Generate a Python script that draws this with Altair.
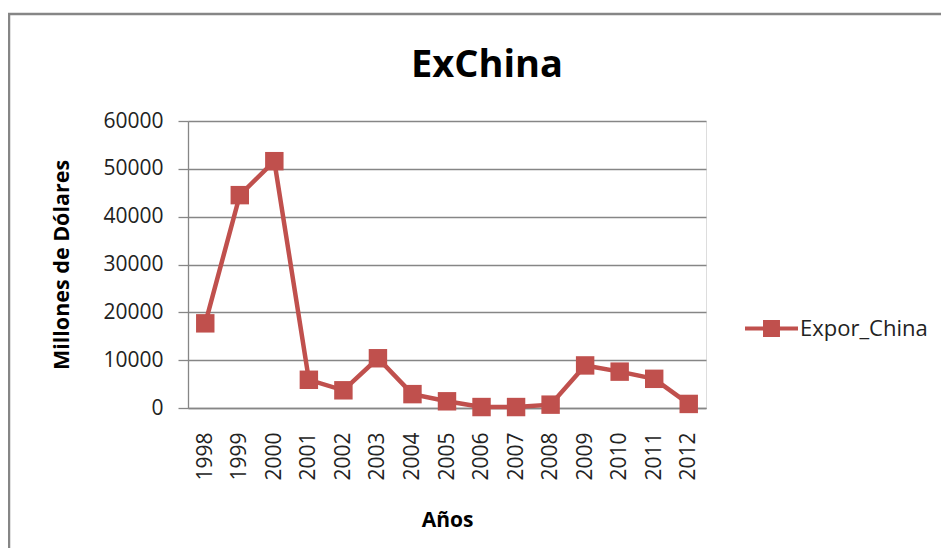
import altair as alt
import pandas as pd

years = ["1998", "1999", "2000", "2001", "2002", "2003", "2004", "2005",
         "2006", "2007", "2008", "2009", "2010", "2011", "2012"]
values = [17700, 44500, 51600, 5900, 3700, 10400, 2900, 1400,
          200, 200, 700, 8900, 7600, 6100, 850]
series_name = "Expor_China"
title_text = "ExChina"
y_title = "Millones de Dólares"
x_title = "Años"

df = pd.DataFrame({"year": years, "value": values, "serie": [series_name] * len(years)})

FONT = "Open Sans"
RED = "#C0504D"
GRAY = "#868686"

W, H = 518, 287

color = alt.Color(
    "serie:N",
    scale=alt.Scale(range=[RED]),
    legend=alt.Legend(
        title=None, orient="none", legendX=557, legendY=181,
        symbolType="M-1,-0.08L1,-0.08L1,0.08L-1,0.08Z M-0.32,-0.32L0.32,-0.32L0.32,0.32L-0.32,0.32Z",
        symbolSize=2809, symbolFillColor=RED, symbolStrokeWidth=0,
        labelFont=FONT, labelFontSize=22, labelColor="#222222",
        labelOffset=2, padding=0, offset=0,
    ),
)

x = alt.X(
    "year:O", sort=years, scale=alt.Scale(padding=0.5),
    axis=alt.Axis(
        title=x_title, titleFont=FONT, titleFontSize=21, titleFontWeight="bold",
        titleColor="#000000", titleX=259, titleY=112, titleBaseline="middle",
        labelAngle=-90, labelFont=FONT, labelFontSize=21, labelColor="#222222",
        labelPadding=24, ticks=False, domainColor=GRAY, domainWidth=1.3, grid=False,
    ),
)
y = alt.Y(
    "value:Q", scale=alt.Scale(domain=[0, 60000], nice=False),
    axis=alt.Axis(
        title=y_title, titleFont=FONT, titleFontSize=21.5, titleFontWeight="bold",
        titleColor="#000000", titleX=-126, titleY=143.5, titleBaseline="middle",
        titleAlign="center",
        values=[0, 10000, 20000, 30000, 40000, 50000, 60000], format="d",
        labelFont=FONT, labelFontSize=21, labelColor="#222222", labelPadding=15,
        tickSize=10, tickColor=GRAY, tickWidth=1.3, domainColor=GRAY, domainWidth=1.3,
        grid=True, gridColor=GRAY, gridWidth=1.3,
    ),
)

base = alt.Chart(df)
line = base.mark_line(strokeWidth=4.5, color=RED).encode(x=x, y=y, color=color)
pts = base.mark_point(shape="square", filled=True, size=340, opacity=1).encode(
    x=x, y=y, color=color
)

frame = alt.Chart(pd.DataFrame({"a": [0]})).mark_rect(
    fill=None, stroke=GRAY, strokeWidth=2.5
).encode(
    x=alt.value(-179), x2=alt.value(775), y=alt.value(-107), y2=alt.value(450)
)

title = alt.Chart(pd.DataFrame({"t": [title_text]})).mark_text(
    font=FONT, fontSize=38, fontWeight="bold", color="#000000",
    baseline="alphabetic", align="center",
).encode(x=alt.value(299), y=alt.value(-44), text="t:N")

chart = alt.layer(frame, line, pts, title).properties(
    width=W, height=H,
    autosize=alt.AutoSizeParams(type="none"),
    padding={"left": 180, "top": 113, "right": 235, "bottom": 140},
).configure_view(stroke=None).configure(background="white")

chart.save("out.html", embed_options={"renderer": "svg", "actions": False})
